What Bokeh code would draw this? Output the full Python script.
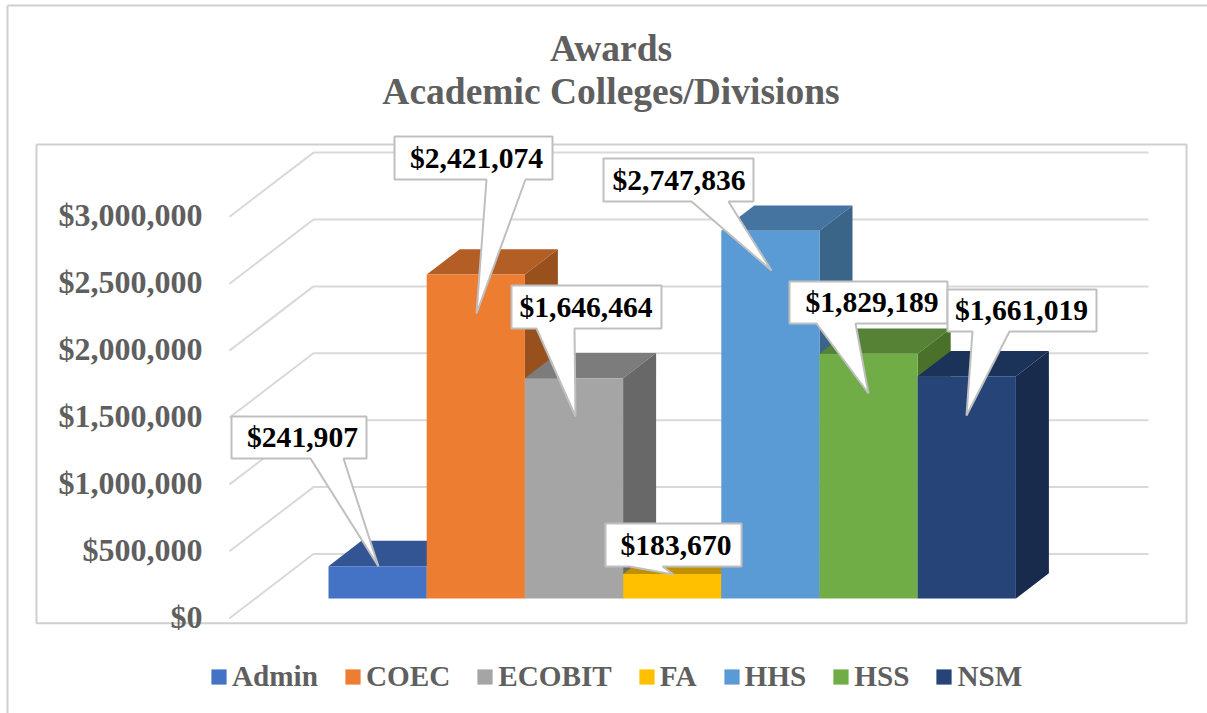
from bokeh.plotting import figure
from bokeh.models import (ColumnDataSource, FixedTicker, Legend, LegendItem, LinearAxis,
                          NumeralTickFormatter, Range1d)
from bokeh.core.properties import value
from bokeh.embed import file_html
from bokeh.resources import INLINE

# ---- data ----
categories = ["Admin", "COEC", "ECOBIT", "FA", "HHS", "HSS", "NSM"]
awards = [241907, 2421074, 1646464, 183670, 2747836, 1829189, 1661019]
tick_values = [0, 500000, 1000000, 1500000, 2000000, 2500000, 3000000]
title_lines = ["Awards", "Academic Colleges/Divisions"]

# ---- styles ----
front_colors = ["#4472C4", "#ED7D31", "#A5A5A5", "#FFC000", "#5B9BD5", "#70AD47", "#264478"]
top_colors = ["#335593", "#B25E25", "#7C7C7C", "#BF9000", "#44749F", "#568236", "#1C3359"]
side_colors = ["#2A4A80", "#98511D", "#686868", "#A37C00", "#3A6488", "#4A7029", "#182B4C"]
GRID = "#D9D9D9"
BORDER = "#CFCFCF"
TEXT = "#5F5F5F"
SERIF = value("Liberation Serif")

# ---- geometry: pixels of the 1207x713 page ----
W, H = 1207, 713
BAR_LEFT, BAR_STEP, BASE_Y = 328.0, 98.2, 598.0
PX_PER_USD = 66.9 / 500000
DEPTH_X, DEPTH_Y = 33.0, 25.3


def fx(px):
    return (px - BAR_LEFT) / BAR_STEP


def fy(py):
    return (BASE_Y - py) / PX_PER_USD


dx = DEPTH_X / BAR_STEP
dy = DEPTH_Y / PX_PER_USD

p = figure(width=W, height=H, output_backend="svg", toolbar_location=None,
           x_range=Range1d(fx(0), fx(W)), y_range=Range1d(fy(H), fy(0)),
           x_axis_location=None, y_axis_location=None, min_border=0,
           outline_line_color=None, background_fill_color="white", border_fill_color="white")
p.grid.visible = False

# ---- outer frame and plot-area frame ----
p.line([fx(7), fx(7)], [fy(H), fy(5)], line_color=BORDER, line_width=2)
p.line([fx(7), fx(1207)], [fy(5), fy(5)], line_color=BORDER, line_width=2)
p.line([fx(36), fx(36), fx(1186), fx(1186), fx(36)],
       [fy(144), fy(622.7), fy(622.7), fy(144), fy(144)], line_color=BORDER, line_width=2)

# ---- value axis on the front edge of the floor, with its own range ----
AXIS_ZERO_Y = 617.7
LABEL_ZERO_Y = 616.2
p.extra_y_ranges = {"axis": Range1d(-(H - LABEL_ZERO_Y) / PX_PER_USD, LABEL_ZERO_Y / PX_PER_USD)}
axis = LinearAxis(y_range_name="axis", fixed_location=fx(209),
                  ticker=FixedTicker(ticks=tick_values),
                  formatter=NumeralTickFormatter(format="$0,0"),
                  axis_line_color=None, major_tick_line_color=None, minor_tick_line_color=None,
                  major_label_standoff=1, major_label_text_font="Liberation Serif",
                  major_label_text_font_style="bold", major_label_text_font_size="32px",
                  major_label_text_color=TEXT)
p.add_layout(axis, "left")

# ---- wall + side wall gridlines ----
zero_offset = (AXIS_ZERO_Y - 553.5) / PX_PER_USD
for t in tick_values:
    p.line([fx(229), fx(313), fx(1148)],
           [t + fy(AXIS_ZERO_Y), t + fy(AXIS_ZERO_Y) + zero_offset, t + fy(AXIS_ZERO_Y) + zero_offset],
           line_color=GRID, line_width=2)

# ---- bars: top and side faces, then the front ----
items = []
for i, (cat, val) in enumerate(zip(categories, awards)):
    p.patch([i, i + 1, i + 1 + dx, i + dx], [val, val, val + dy, val + dy],
            fill_color=top_colors[i], line_color=None)
    p.patch([i + 1, i + 1 + dx, i + 1 + dx, i + 1], [0, dy, val + dy, val],
            fill_color=side_colors[i], line_color=None)
    src = ColumnDataSource(dict(left=[i], right=[i + 1], top=[val], bottom=[0]))
    r = p.quad(left="left", right="right", top="top", bottom="bottom", source=src,
               fill_color=front_colors[i], line_color=None)
    items.append(LegendItem(label=cat, renderers=[r]))

# ---- callouts: box left, right, top, bottom, tail base left, right, tail tip x, y, text centre x ----
callouts = [
    (231, 366, 416, 458, 310, 343, 378, 566, 302),
    (394, 552, 136, 179, 486, 525, 476, 313, 476),
    (511, 661, 285, 328, 536, 574, 575, 416, 585.5),
    (605, 741, 523, 566, 629, 662, 673, 574, 675.5),
    (603, 753, 158, 201, 691, 728, 771, 270, 678.5),
    (789, 947, 281, 323, 816, 855, 868, 393, 871.5),
    (947, 1096, 289, 331, 972, 1009, 966, 415, 1021),
]
for val, (l, r_, t, b, b0, b1, tx, ty, cx) in zip(awards, callouts):
    xs = [l, r_, r_, b1, tx, b0, l, l]
    ys = [t, t, b, b, ty, b, b, t]
    p.patch([fx(v) for v in xs], [fy(v) for v in ys], fill_color="white",
            line_color="#BFBFBF", line_width=2)
    p.text([fx(cx)], [fy((t + b) / 2 - 0.5)], text=[f"${val:,}"], text_font=SERIF,
           text_font_style="bold", text_font_size="29.6px", text_color="black",
           text_align="center", text_baseline="middle")

# ---- title ----
p.text([fx(610.5)] * 2, [fy(47.5), fy(90.5)], text=title_lines, text_font=SERIF,
       text_font_style="bold", text_font_size="37.5px", text_color=TEXT,
       text_align="center", text_baseline="middle")

# ---- legend ----
legend = Legend(items=items, orientation="horizontal", location=(209, 20),
                background_fill_alpha=0, border_line_color=None, padding=0, margin=0,
                glyph_width=19, glyph_height=19, label_standoff=4, spacing=25,
                label_text_font="Liberation Serif", label_text_font_style="bold",
                label_text_font_size="29.2px", label_text_color=TEXT)
p.add_layout(legend)

open("out.html", "w").write(file_html(p, INLINE))
